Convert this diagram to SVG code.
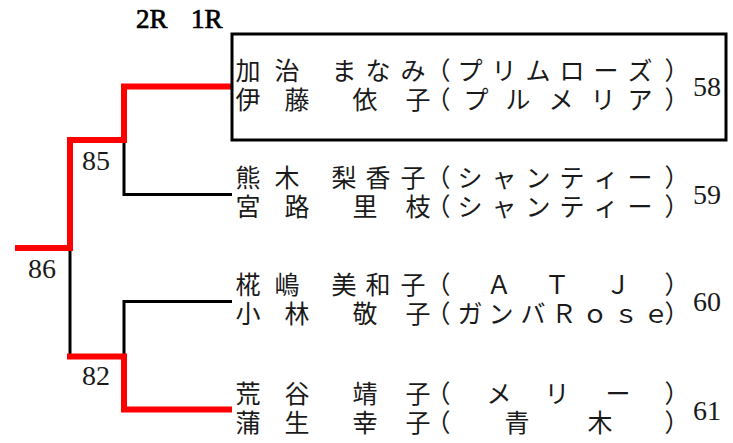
<svg xmlns="http://www.w3.org/2000/svg" width="733" height="443" viewBox="0 0 733 443">
<style>
.bg{fill:#ffffff}
.nm{font-family:"Noto Sans CJK JP","Liberation Serif",serif;font-size:25px;fill:#1a1a1a;text-anchor:middle}
.num{font-family:"Liberation Serif",serif;font-size:28px;fill:#1a1a1a}
.hdr{font-family:"Liberation Serif",serif;font-size:27px;fill:#000;stroke:#000;stroke-width:0.7}
.blk{fill:none;stroke:#000;stroke-width:3}
.win{fill:none;stroke:#ff0000;stroke-width:6}
.box{fill:none;stroke:#000;stroke-width:3}
</style>
<rect class="bg" x="0" y="0" width="733" height="443"/>

<g id="round-headers">
<text class="hdr" x="136" y="28">2R</text>
<text class="hdr" x="191" y="28">1R</text>
</g>

<g id="connectors">
<path class="blk" d="M124 140 V194.5 H232"/>
<path class="blk" d="M70 250 V356"/>
<path class="blk" d="M124 356 V301.5 H232"/>
<path class="win" d="M232 86.5 H124 V140 H70 V248 H15"/>
<path class="win" d="M67 356.5 H124 V409.5 H232"/>
</g>

<g id="scores">
<text class="num" x="82" y="170">85</text>
<text class="num" x="28" y="278">86</text>
<text class="num" x="82" y="385">82</text>
</g>

<g id="entry-58">
<rect class="box" x="232" y="34" width="494" height="106"/>
<text class="nm" x="248 287 310 344 378 413 438 470 504 538 572 606 640 677" y="80">加治 まなみ（プリムローズ）</text>
<text class="nm" x="248 297 330 365 418 438 476 518 561 603 640 677" y="109">伊藤 依子（プルメリア）</text>
<text class="num" x="693" y="96">58</text>
</g>

<g id="entry-59">
<text class="nm" x="248 287 310 344 378 413 438 470 504 538 572 606 640 677" y="187">熊木 梨香子（シャンティー）</text>
<text class="nm" x="248 297 330 365 418 438 470 504 538 572 606 640 677" y="216">宮路 里枝（シャンティー）</text>
<text class="num" x="693" y="204">59</text>
</g>

<g id="entry-60">
<text class="nm" x="248 287 310 344 378 413 438 499 557 618 677" y="294">椛嶋 美和子（ＡＴＪ）</text>
<text class="nm" x="248 297 330 365 418 438 470 501 533 564 595 626 656 677" y="323">小林 敬子（ガンバＲｏｓｅ）</text>
<text class="num" x="693" y="311">60</text>
</g>

<g id="entry-61">
<text class="nm" x="248 297 330 365 418 438 499 557 618 677" y="403">荒谷 靖子（メリー）</text>
<text class="nm" x="248 297 330 365 418 438 517 600 677" y="432">蒲生 幸子（青木）</text>
<text class="num" x="693" y="420">61</text>
</g>
</svg>
